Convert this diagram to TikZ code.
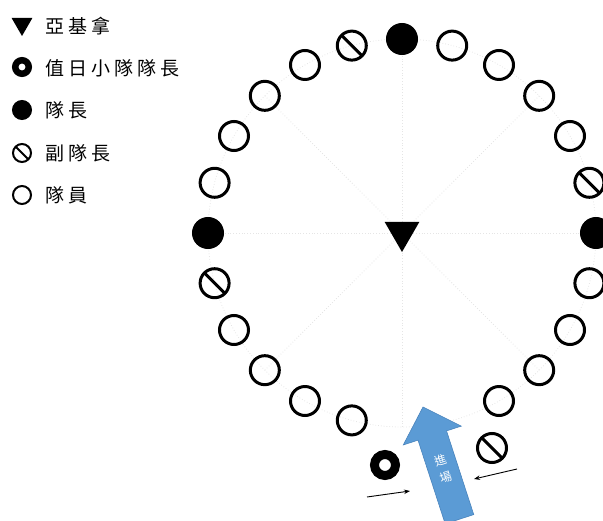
\documentclass[tikz,border=0pt]{standalone}
\usepackage{fontspec}
\newfontfamily\cjk{Noto Sans CJK TC}
\newfontfamily\cjkwide[LetterSpace=21]{Noto Sans CJK TC}
\usepackage{xcolor}
\usetikzlibrary{shapes.geometric,arrows.meta,positioning}

\definecolor{arrowblue}{HTML}{5B9BD5}
\definecolor{arrowedge}{HTML}{4A84BD}

\tikzset{
  member/.style={circle,draw,line width=3pt,minimum size=29pt,inner sep=0pt},
  leader/.style={member,fill=black},
  deputy/.style={member,path picture={\draw[line width=3pt] (path picture bounding box.north west) -- (path picture bounding box.south east);}},
  duty/.style={circle,draw,line width=9pt,minimum size=21pt,inner sep=0pt},
  akela/.style={regular polygon,regular polygon sides=3,shape border rotate=180,fill=black,minimum size=40pt,inner sep=0pt},
  legmember/.style={circle,draw,line width=2pt,minimum size=18pt,inner sep=0pt},
  legdeputy/.style={legmember,path picture={\draw[line width=2pt] (path picture bounding box.north west) -- (path picture bounding box.south east);}},
  legtext/.style={anchor=west,font=\cjkwide\fontsize{19}{19}\selectfont,inner sep=0pt},
  guide/.style={draw=black!10,dotted,line width=0.8pt},
  push/.style={-{Stealth[length=6pt,width=4.5pt]},line width=0.9pt},
}

\begin{document}
\begin{tikzpicture}[x=1pt,y=1pt]
    \useasboundingbox (0,0) rectangle (603,520);
    \clip (0,0) rectangle (603,520);
    \coordinate (c) at (402,287);

    % Guide circle and spokes
    \draw[guide] (c) circle (194);
    \foreach \a in {0,45,...,315} {
        \draw[guide] (c) -- ++(\a:194);
    }

    % Akela in the middle
    \node[akela] (akela) at (402,288) {};

    % Big circle
    \begin{scope}[shift={(c)}]
        \foreach \a in {30,45,60,75,120,135,150,165,210,225,240,255,300,315,330,345} {
            \node[member] (m\a) at (\a:194) {};
        }
        \foreach \a in {0,90,180} {
            \node[leader] (l\a) at (\a:194) {};
        }
        \foreach \a in {15,105,195} {
            \node[deputy] (d\a) at (\a:194) {};
        }
    \end{scope}

    % Gate
    \node[duty] (duty) at (385,55) {};
    \node[deputy] (gatedeputy) at (492,72) {};

    % Entrance arrow
    \begin{scope}[shift={(423,113)},rotate=18]
        \filldraw[fill=arrowblue,draw=arrowedge,line width=0.6pt] (0,0) -- (30.5,-30) -- (15,-30) -- (15,-118) -- (-15,-118) -- (-15,-30) -- (-30.5,-30) -- cycle;
        \node[rotate=18,text=white,font=\cjk\fontsize{12}{17}\selectfont,align=center,inner sep=0pt] (enter) at (0,-65) {進\\場};
    \end{scope}

    % Side arrows
    \coordinate (lfrom) at (367,23);
    \coordinate (lto) at (410,29);
    \coordinate (rfrom) at (517,51);
    \coordinate (rto) at (474,41);
    \draw[push] (lfrom) -- (lto);
    \draw[push] (rfrom) -- (rto);

    % Legend
    \node[akela,minimum size=24pt] (legakela) at (22,496) {};
    \node[circle,draw,line width=6.5pt,minimum size=13.5pt,inner sep=0pt] (legduty) at (22,453) {};
    \node[legmember,fill=black] (legleader) at (22,410) {};
    \node[legdeputy] (legdeputy) at (22,367) {};
    \node[legmember] (legmember) at (22,325) {};
    \node[legtext] (takela) at (45,494) {亞基拿};
    \node[legtext] (tduty) at (45,452) {值日小隊隊長};
    \node[legtext] (tleader) at (45,410) {隊長};
    \node[legtext] (tdeputy) at (45,367) {副隊長};
    \node[legtext] (tmember) at (45,325) {隊員};
\end{tikzpicture}
\end{document}
